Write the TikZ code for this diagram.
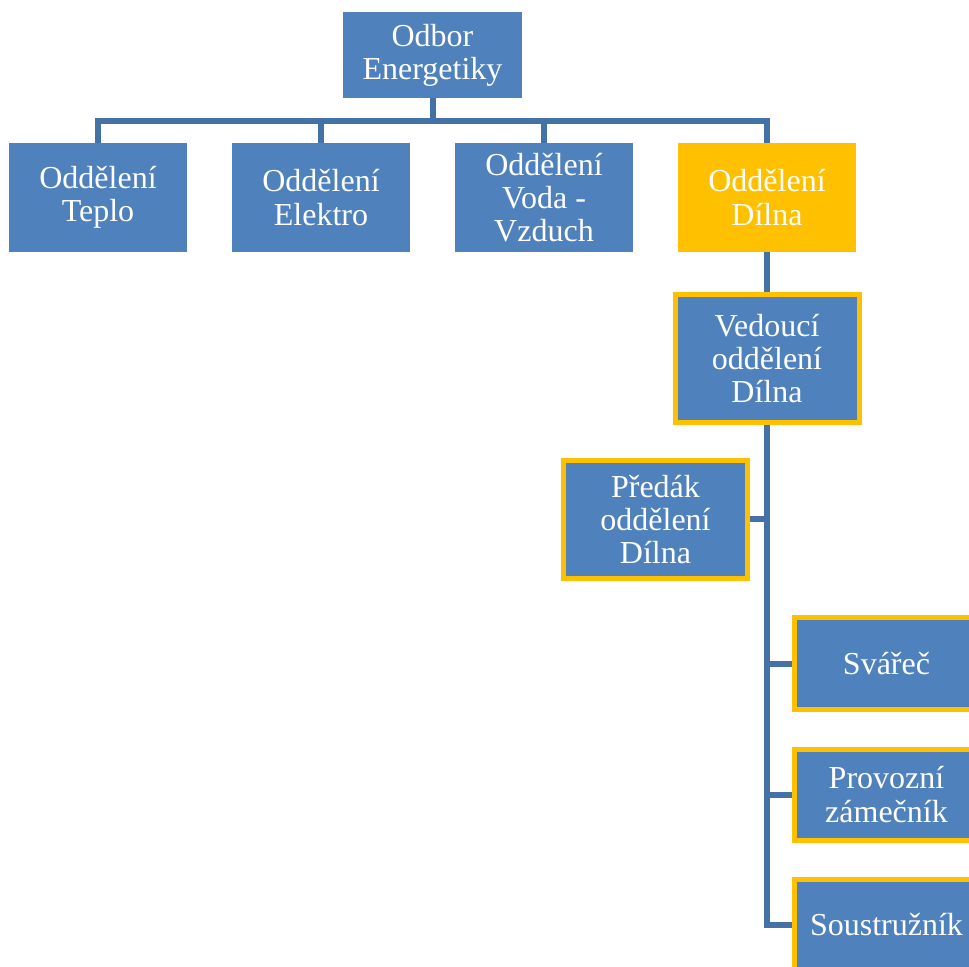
\documentclass[tikz,border=0pt]{standalone}
\usepackage{fontspec}
\setmainfont{Liberation Serif}
\usetikzlibrary{positioning,calc}

\definecolor{boxblue}{RGB}{79,129,189}
\definecolor{lineblue}{RGB}{68,113,166}
\definecolor{gold}{RGB}{255,192,0}

\begin{document}
\begin{tikzpicture}[
    x=0.5pt, y=-0.5pt,
    dept/.style={rectangle, fill=boxblue, text=white, align=center, inner sep=0pt, outer sep=0pt,
                 minimum width=89pt, minimum height=54.5pt,
                 font=\fontsize{16}{16.6}\selectfont},
    head/.style={dept, minimum width=89.5pt, minimum height=43pt},
    sel/.style={dept, fill=gold},
    staff/.style={dept, draw=gold, line width=2.5pt, outer sep=1.25pt,
                  minimum width=92pt, minimum height=45.5pt},
    ln/.style={draw=lineblue, line width=3pt}
  ]
    \useasboundingbox (0,0) rectangle (969,967);
    \clip (0,0) rectangle (969,967);

    \node[head] (odbor) at (432.5,55) {Odbor\\Energetiky};

    %--- departments ---
    \node[dept] (teplo) at (98,197.5) {Oddělení\\Teplo};
    \node[dept, right=22.5pt of teplo]   (elektro) {Oddělení\\Elektro};
    \node[dept, right=22.5pt of elektro] (voda)    {Oddělení\\Voda -\\Vzduch};
    \node[sel,  right=22.5pt of voda]    (dilna)   {Oddělení\\Dílna};

    %--- workshop staff ---
    \node[staff, below=20pt of dilna, minimum height=64pt] (vedouci) {Vedoucí\\oddělení\\Dílna};
    \node[staff, minimum height=59pt] (predak) at (655.5,519.5) {Předák\\oddělení\\Dílna};
    \node[staff] (svarec)  at (886.5,663.5) {Svářeč};
    \node[staff] (zamecnik) at (886.5,794.5) {Provozní\\zámečník};
    \node[staff] (soustruznik) at (886.5,924.5) {Soustružník};

    \foreach \d in {teplo,elektro,voda,dilna}
      \draw[ln] (odbor.south) -- ++(0,23) -| (\d.north);

    \draw[ln] (dilna.south) -- (vedouci.north);
    \draw[ln] (predak.east) -- (predak.east -| vedouci.south);
    \draw[ln] (vedouci.south) |- (soustruznik.west);
    \draw[ln] (svarec.west) -- (svarec.west -| vedouci.south);
    \draw[ln] (zamecnik.west) -- (zamecnik.west -| vedouci.south);
  \end{tikzpicture}
\end{document}
